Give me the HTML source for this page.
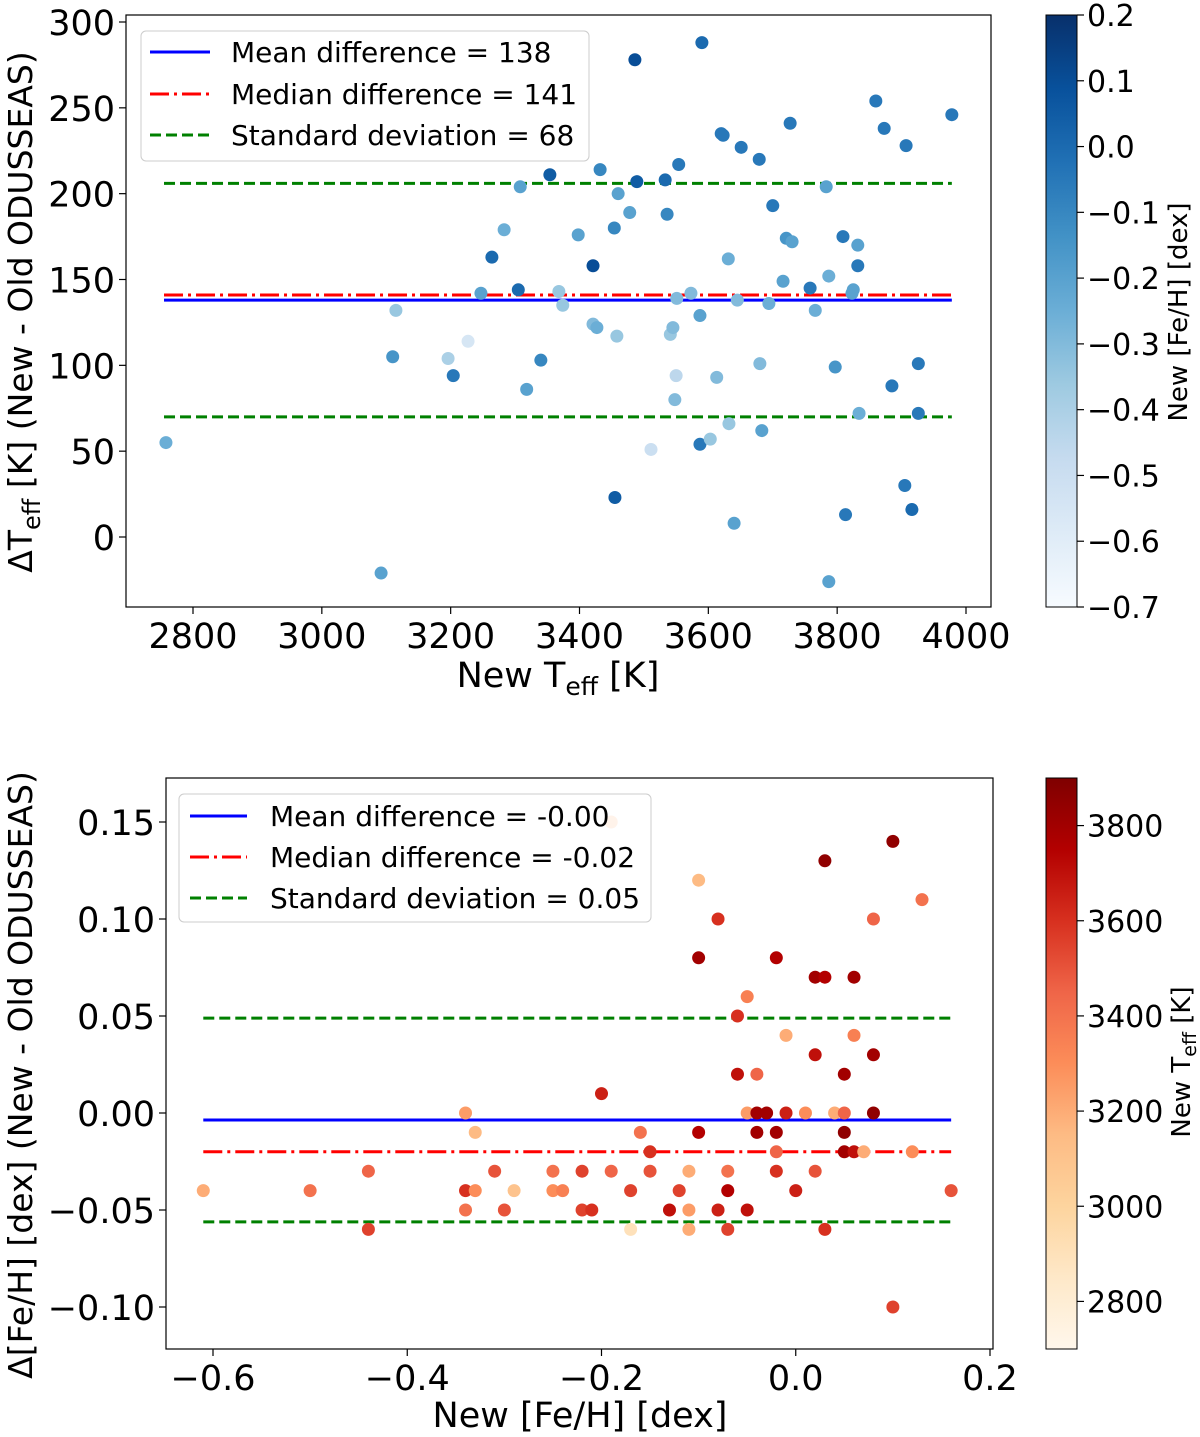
<!DOCTYPE html>
<html><head><meta charset="utf-8"><style>
html,body{margin:0;padding:0;background:#fff}
svg{display:block;font-family:"DejaVu Sans","Liberation Sans",sans-serif}
</style></head><body>
<svg id="fig" width="1200" height="1437" viewBox="0 0 1200 1437" xmlns="http://www.w3.org/2000/svg"></svg>
<script>
// ---------- Top panel data ----------
const topTeff = [2758,3092,3110,3115,3196,3204,3227,3247,3264,3283,3305,3308,3318,3340,3354,3368,3374,3398,3421,3421,3427,3432,3455,3454,3458,3460,3478,3486,3489,3511,3533,3536,3541,3545,3550,3548,3554,3551,3573,3587,3587,3590,3603,3613,3620,3623,3631,3632,3640,3645,3651,3679,3680,3683,3694,3700,3716,3721,3727,3730,3758,3766,3783,3787,3797,3809,3813,3823,3825,3832,3832,3834,3860,3873,3885,3907,3905,3916,3926,3926,3978,3787];
const topDT = [55,-21,105,132,104,94,114,142,163,179,144,204,86,103,211,143,135,176,158,124,122,214,23,180,117,200,189,278,207,51,208,188,118,122,94,80,217,139,142,129,54,288,57,93,235,234,162,66,8,138,227,220,101,62,136,193,149,174,241,172,145,132,204,152,99,175,13,142,144,170,158,72,254,238,88,228,30,16,101,72,246,-26];
const topFeH = [-0.25,-0.2,-0.15,-0.35,-0.4,-0.05,-0.55,-0.2,0.0,-0.25,0.0,-0.2,-0.2,-0.1,0.05,-0.35,-0.35,-0.2,0.1,-0.3,-0.25,-0.1,0.05,-0.1,-0.35,-0.2,-0.2,0.1,0.05,-0.5,0.0,-0.1,-0.35,-0.3,-0.45,-0.3,-0.05,-0.3,-0.3,-0.2,-0.05,0.0,-0.35,-0.3,-0.05,-0.05,-0.25,-0.35,-0.2,-0.3,-0.05,-0.05,-0.3,-0.2,-0.25,-0.05,-0.2,-0.15,-0.05,-0.2,-0.05,-0.25,-0.2,-0.25,-0.15,-0.05,-0.05,-0.2,-0.2,-0.2,-0.05,-0.25,-0.05,-0.05,-0.05,-0.05,-0.05,0.0,-0.05,-0.05,-0.05,-0.2];
const topXTicks = [2800,3000,3200,3400,3600,3800,4000];
const topYTicks = [0,50,100,150,200,250,300];
const topCbTicks = [0.2,0.1,0.0,-0.1,-0.2,-0.3,-0.4,-0.5,-0.6,-0.7];
const topStats = [138,141,68];
// ---------- Bottom panel data ----------
const botFeH = [-0.61,-0.50,-0.44,-0.44,-0.34,-0.33,-0.34,-0.33,-0.34,-0.31,-0.29,-0.30,-0.25,-0.25,-0.24,-0.22,-0.22,-0.21,-0.20,-0.19,-0.19,-0.17,-0.17,-0.16,-0.15,-0.15,-0.13,-0.12,-0.11,-0.11,-0.11,-0.10,-0.10,-0.10,-0.08,-0.08,-0.07,-0.07,-0.07,-0.06,-0.06,-0.05,-0.05,-0.05,-0.04,-0.04,-0.03,-0.02,-0.02,-0.02,-0.02,-0.01,-0.01,-0.04,0.00,0.01,0.02,0.02,0.02,0.03,0.03,0.03,0.04,0.05,0.05,0.05,0.05,0.06,0.06,0.06,0.07,0.08,0.08,0.08,0.10,0.10,0.12,0.13,0.16];
const botDF = [-0.04,-0.04,-0.03,-0.06,0.00,-0.01,-0.04,-0.04,-0.05,-0.03,-0.04,-0.05,-0.03,-0.04,-0.04,-0.03,-0.05,-0.05,0.01,-0.03,0.15,-0.04,-0.06,-0.01,-0.02,-0.03,-0.05,-0.04,-0.03,-0.05,-0.06,0.12,-0.01,0.08,0.10,-0.05,-0.04,-0.03,-0.06,0.05,0.02,0.06,0.00,-0.05,0.02,-0.01,0.00,0.08,-0.01,-0.02,-0.03,0.04,0.00,0.00,-0.04,0.00,0.03,0.07,-0.03,0.07,0.13,-0.06,0.00,0.02,0.00,-0.01,-0.02,0.04,0.07,-0.02,-0.02,0.10,0.03,0.00,0.14,-0.10,-0.02,0.11,-0.04];
const botTeff = [3200,3400,3450,3550,3250,3150,3600,3300,3400,3500,3100,3500,3400,3300,3350,3550,3550,3600,3650,3450,3200,3550,2900,3400,3600,3500,3700,3550,3200,3250,3200,3150,3750,3800,3600,3650,3750,3400,3550,3600,3700,3350,3250,3700,3450,3800,3800,3750,3800,3450,3600,3200,3650,3800,3650,3300,3700,3800,3500,3750,3850,3600,3200,3800,3450,3850,3800,3350,3800,3700,3200,3450,3800,3850,3850,3550,3300,3400,3500];
const botXTicks = [-0.6,-0.4,-0.2,0.0,0.2];
const botYTicks = [-0.10,-0.05,0.00,0.05,0.10,0.15];
const botCbTicks = [3800,3600,3400,3200,3000,2800];
const botStats = [-0.0036,-0.02,0.0525];

const NS='http://www.w3.org/2000/svg';
const svg=document.getElementById('fig');
function mk(tag,attrs,parent,text){const e=document.createElementNS(NS,tag);for(const k in attrs)e.setAttribute(k,attrs[k]);if(text!==undefined)e.textContent=text;(parent||svg).appendChild(e);return e;}
function lerpCmap(stops,t){t=Math.max(0,Math.min(1,t));const n=stops.length-1;const i=Math.min(n-1,Math.floor(t*n));const f=t*n-i;const a=stops[i],b=stops[i+1];const h=s=>[1,3,5].map(k=>parseInt(s.substr(k,2),16));const A=h(a),B=h(b);return 'rgb('+A.map((v,j)=>Math.round(v+(B[j]-v)*f)).join(',')+')';}
const Blues=['#f7fbff','#deebf7','#c6dbef','#9ecae1','#6baed6','#4292c6','#2171b5','#08519c','#08306b'];
const OrRd=['#fff7ec','#fee8c8','#fdd49e','#fdbb84','#fc8d59','#ef6548','#d7301f','#b30000','#7f0000'];
function fmtMinus(s){return s.replace('-','\u2212');}

function panel(o){
  const g=mk('g',{},svg);
  const X=v=>o.x0+(v-o.xv0)/(o.xv1-o.xv0)*(o.x1-o.x0);
  const Y=v=>o.y0+(v-o.yv0)/(o.yv1-o.yv0)*(o.y1-o.y0);
  const xa=X(o.lineX[0]),xb=X(o.lineX[1]);
  const mean=o.stats[0],med=o.stats[1],sd=o.stats[2];
  let l;
  l=mk('line',{x1:xa,x2:xb,y1:Y(mean),y2:Y(mean),stroke:'#0000ff','stroke-width':3},g);
  l=mk('line',{x1:xa,x2:xb,y1:Y(med),y2:Y(med),stroke:'#ff0000','stroke-width':3,'stroke-dasharray':'19 5 3 5'},g);
  l=mk('line',{x1:xa,x2:xb,y1:Y(mean+sd),y2:Y(mean+sd),stroke:'#008000','stroke-width':3,'stroke-dasharray':'11 5'},g);
  l=mk('line',{x1:xa,x2:xb,y1:Y(mean-sd),y2:Y(mean-sd),stroke:'#008000','stroke-width':3,'stroke-dasharray':'11 5'},g);
  for(let i=0;i<o.xs.length;i++){
    const c=mk('circle',{cx:X(o.xs[i]),cy:Y(o.ys[i]),r:6.5,fill:lerpCmap(o.cmap,(o.cs[i]-o.cmin)/(o.cmax-o.cmin))},g);
    
    
  }
  const fr=mk('rect',{x:o.fl,y:o.top,width:o.fr-o.fl,height:o.bottom-o.top,fill:'none',stroke:'#000','stroke-width':1.2},g);
  
  o.xticks.forEach(v=>{const x=X(v);mk('line',{x1:x,x2:x,y1:o.bottom,y2:o.bottom+7,stroke:'#000','stroke-width':1.2},g);
    const t=mk('text',{x:x,y:o.bottom+41,'font-size':35,'text-anchor':'middle'},g,fmtMinus(o.xfmt(v)));});
  o.yticks.forEach(v=>{const y=Y(v);mk('line',{x1:o.fl-7,x2:o.fl,y1:y,y2:y,stroke:'#000','stroke-width':1.2},g);
    const t=mk('text',{x:o.fl-11,y:y+13,'font-size':35,'text-anchor':'end'},g,fmtMinus(o.yfmt(v)));});
  const cbx=1046,cbw=31;
  const defs=mk('defs',{},g);const gr=mk('linearGradient',{id:o.name+'-grad',x1:0,y1:1,x2:0,y2:0},defs);
  o.cmap.forEach((c,i)=>mk('stop',{offset:i/(o.cmap.length-1),'stop-color':c},gr));
  const cb=mk('rect',{x:cbx,y:o.top,width:cbw,height:o.bottom-o.top,fill:'url(#'+o.name+'-grad)',stroke:'#000','stroke-width':1},g);
  
  const CY=v=>o.bottom-(v-o.cmin)/(o.cmax-o.cmin)*(o.bottom-o.top);
  o.cbticks.forEach(v=>{const y=CY(v);mk('line',{x1:cbx+cbw,x2:cbx+cbw+7,y1:y,y2:y,stroke:'#000','stroke-width':1.2},g);
    const t=mk('text',{x:cbx+cbw+10,y:y+11,'font-size':30},g,fmtMinus(o.cfmt(v)));});
}

panel({name:'teff-panel',x0:193,x1:966,xv0:2800,xv1:4000,y0:537,y1:22,yv0:0,yv1:300,top:15,bottom:607,fl:126,fr:991,
  xs:topTeff,ys:topDT,cs:topFeH,cmap:Blues,cmin:-0.7,cmax:0.2,lineX:[2755,3978],stats:topStats,
  xticks:topXTicks,yticks:topYTicks,cbticks:topCbTicks,xfmt:v=>String(v),yfmt:v=>String(v),cfmt:v=>v.toFixed(1)});
panel({name:'feh-panel',x0:213,x1:990,xv0:-0.6,xv1:0.2,y0:1113,y1:822,yv0:0,yv1:0.15,top:778,bottom:1349,fl:166,fr:993,
  xs:botFeH,ys:botDF,cs:botTeff,cmap:OrRd,cmin:2700,cmax:3900,lineX:[-0.61,0.16],stats:botStats,
  xticks:botXTicks,yticks:botYTicks,cbticks:botCbTicks,xfmt:v=>v.toFixed(1),yfmt:v=>v.toFixed(2),cfmt:v=>String(v)});
</script>
<svg style="position:absolute;left:0;top:0" width="1200" height="1437" xmlns="http://www.w3.org/2000/svg">
<g font-family="DejaVu Sans, Liberation Sans, sans-serif">
<g>
<rect x="141" y="31" width="448" height="130" rx="5" fill="#fff" fill-opacity="0.85" stroke="#ccc"/>
<line x1="150" x2="210" y1="52" y2="52" stroke="#0000ff" stroke-width="3"/>
<line x1="150" x2="210" y1="94" y2="94" stroke="#ff0000" stroke-width="3" stroke-dasharray="19 5 3 5"/>
<line x1="150" x2="210" y1="135" y2="135" stroke="#008000" stroke-width="3" stroke-dasharray="11 5"/>
<text x="231" y="62" font-size="28">Mean difference = 138</text>
<text x="231" y="104" font-size="28">Median difference = 141</text>
<text x="231" y="145" font-size="28">Standard deviation = 68</text>
</g>
<g>
<rect x="179" y="794" width="472" height="128" rx="5" fill="#fff" fill-opacity="0.85" stroke="#ccc"/>
<line x1="190" x2="247" y1="816" y2="816" stroke="#0000ff" stroke-width="3"/>
<line x1="190" x2="247" y1="857" y2="857" stroke="#ff0000" stroke-width="3" stroke-dasharray="19 5 3 5"/>
<line x1="190" x2="247" y1="898" y2="898" stroke="#008000" stroke-width="3" stroke-dasharray="11 5"/>
<text x="270" y="826" font-size="28">Mean difference = -0.00</text>
<text x="270" y="867" font-size="28">Median difference = -0.02</text>
<text x="270" y="908" font-size="28">Standard deviation = 0.05</text>
</g>
<text x="558" y="687" font-size="35" text-anchor="middle">New T<tspan font-size="25" dy="8">eff</tspan><tspan dy="-8"> [K]</tspan></text>
<text transform="translate(32,312) rotate(-90)" font-size="33" text-anchor="middle">ΔT<tspan font-size="24" dy="8">eff</tspan><tspan dy="-8"> [K] (New - Old ODUSSEAS)</tspan></text>
<text transform="translate(1187,312) rotate(-90)" font-size="26" text-anchor="middle">New [Fe/H] [dex]</text>
<text x="580" y="1427" font-size="35" text-anchor="middle">New [Fe/H] [dex]</text>
<text transform="translate(32,1075) rotate(-90)" font-size="33" text-anchor="middle">Δ[Fe/H] [dex] (New - Old ODUSSEAS)</text>
<text transform="translate(1190,1062) rotate(-90)" font-size="26" text-anchor="middle">New T<tspan font-size="19" dy="6">eff</tspan><tspan dy="-6"> [K]</tspan></text>
</g>
</svg>
</body></html>
